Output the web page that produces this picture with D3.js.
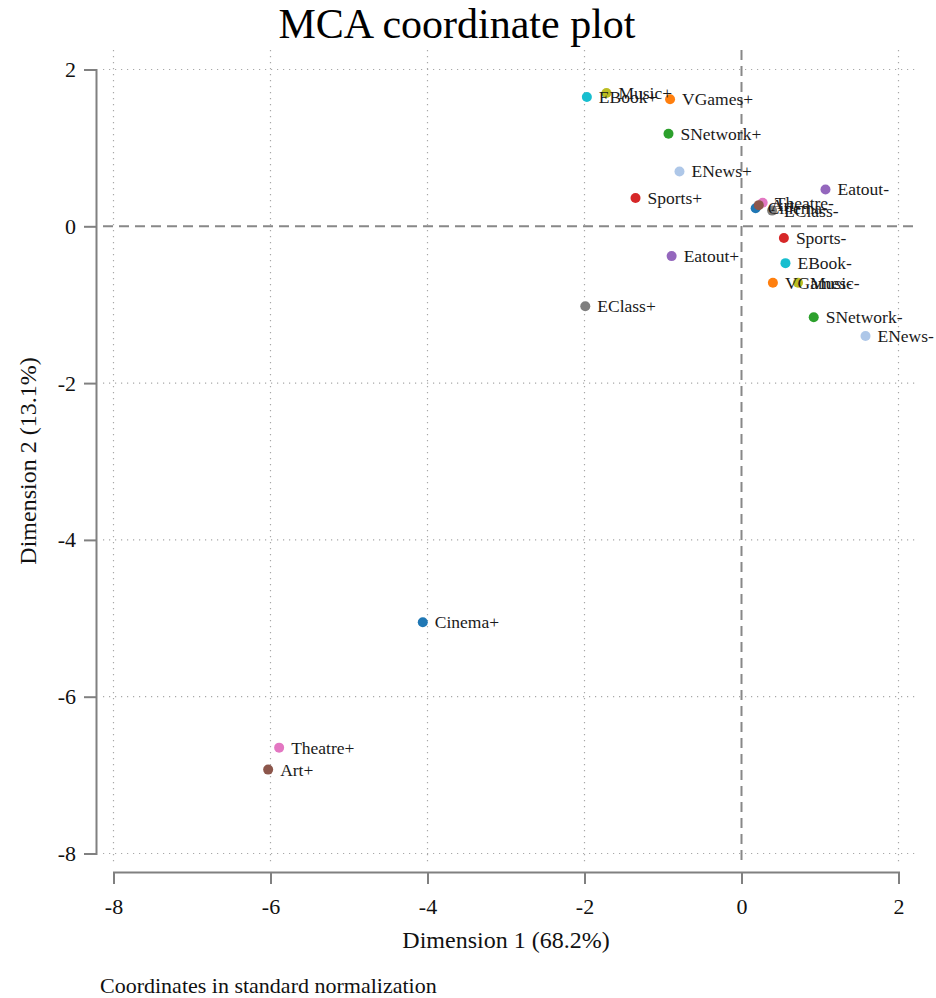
<!DOCTYPE html>
<html>
<head>
<meta charset="utf-8">
<script src="https://cdn.jsdelivr.net/npm/d3@7"></script>
<style>
  body { margin: 0; background: #fff; }
  svg { display: block; font-family: "Liberation Serif", "Times New Roman", serif; }
</style>
</head>
<body>
<svg id="chart" width="936" height="998"></svg>
<script>
// Category labels, dimension 1 and dimension 2 coordinates (standard normalization)
const labels = ["Cinema+", "Cinema-", "Theatre+", "Theatre-", "Art+", "Art-",
  "EClass+", "EClass-", "Eatout+", "Eatout-", "Sports+", "Sports-",
  "ENews+", "ENews-", "SNetwork+", "SNetwork-", "VGames+", "VGames-",
  "Music+", "Music-", "EBook+", "EBook-"];
const dim1 = [-4.06, 0.18, -5.89, 0.27, -6.03, 0.22,
  -1.99, 0.39, -0.89, 1.07, -1.35, 0.54,
  -0.79, 1.58, -0.93, 0.92, -0.91, 0.40,
  -1.72, 0.72, -1.97, 0.56];
const dim2 = [-5.05, 0.23, -6.65, 0.30, -6.93, 0.27,
  -1.02, 0.20, -0.38, 0.47, 0.36, -0.15,
  0.70, -1.40, 1.18, -1.16, 1.62, -0.72,
  1.70, -0.72, 1.65, -0.47];
const variables = ["Cinema", "Theatre", "Art", "EClass", "Eatout", "Sports",
  "ENews", "SNetwork", "VGames", "Music", "EBook"];
const palette = ["#1f77b4", "#e377c2", "#8c564b", "#7f7f7f", "#9467bd", "#d62728",
  "#aec7e8", "#2ca02c", "#ff7f0e", "#bcbd22", "#17becf"];
const xTicks = [-8, -6, -4, -2, 0, 2];
const yTicks = [-8, -6, -4, -2, 0, 2];

const svg = d3.select("#chart");
const x = d3.scaleLinear().domain([-8, 2]).range([113.5, 898.5]);
const y = d3.scaleLinear().domain([-8, 2]).range([853.5, 69.5]);
const color = d3.scaleOrdinal().domain(variables).range(palette);

const plot = { left: 103, right: 918, top: 50, bottom: 863 };
const axisColor = "#808080";

// Dotted grid lines
const grid = svg.append("g");
grid.selectAll("line.gx").data(xTicks.filter(d => d !== 0)).join("line")
  .attr("x1", d => x(d)).attr("x2", d => x(d))
  .attr("y1", plot.top).attr("y2", plot.bottom)
  .attr("stroke", "#a8a8a8").attr("stroke-width", 1.2).attr("stroke-dasharray", "1.2,4.8");
grid.selectAll("line.gy").data(yTicks.filter(d => d !== 0)).join("line")
  .attr("y1", d => y(d)).attr("y2", d => y(d))
  .attr("x1", plot.left).attr("x2", plot.right)
  .attr("stroke", "#a8a8a8").attr("stroke-width", 1.2).attr("stroke-dasharray", "1.2,4.8");

// Dashed reference lines through the origin
svg.append("line")
  .attr("x1", x(0)).attr("x2", x(0)).attr("y1", plot.top).attr("y2", plot.bottom)
  .attr("stroke", "#888").attr("stroke-width", 2).attr("stroke-dasharray", "10,6");
svg.append("line")
  .attr("x1", plot.left).attr("x2", plot.right).attr("y1", y(0)).attr("y2", y(0))
  .attr("stroke", "#888").attr("stroke-width", 2).attr("stroke-dasharray", "10,6");

// Axes
const xAxis = svg.append("g")
  .attr("transform", "translate(0,872)")
  .call(d3.axisBottom(x).tickValues(xTicks).tickFormat(d3.format("d")).tickSizeOuter(0).tickSize(12).tickPadding(14));
const yAxis = svg.append("g")
  .attr("transform", "translate(96,0)")
  .call(d3.axisLeft(y).tickValues(yTicks).tickFormat(d3.format("d")).tickSizeOuter(0).tickSize(12).tickPadding(8));
[xAxis, yAxis].forEach(g => {
  g.select(".domain").attr("stroke", axisColor).attr("stroke-width", 2);
  g.selectAll(".tick line").attr("stroke", axisColor).attr("stroke-width", 2);
  g.selectAll(".tick text").attr("fill", "#111").attr("font-size", 22)
    .attr("font-family", "Liberation Serif, Times New Roman, serif");
});
xAxis.selectAll(".tick text").text(d => d < 0 ? "-" + Math.abs(d) : d);
yAxis.selectAll(".tick text").text(d => d < 0 ? "-" + Math.abs(d) : d);

// Points and labels
const pts = labels.map((l, i) => ({ label: l, v: l.slice(0, -1), x: dim1[i], y: dim2[i] }));
svg.append("g").selectAll("circle").data(pts).join("circle")
  .attr("cx", d => x(d.x)).attr("cy", d => y(d.y)).attr("r", 5)
  .attr("fill", d => color(d.v));
svg.append("g").selectAll("text").data(pts).join("text")
  .attr("x", d => x(d.x) + 12).attr("y", d => y(d.y) + 6)
  .attr("font-size", 17.5).attr("fill", "#1a1a1a")
  .text(d => d.label);

// Titles
svg.append("text").attr("x", 457).attr("y", 38).attr("text-anchor", "middle")
  .attr("font-size", 42).attr("fill", "#000").text("MCA coordinate plot");
svg.append("text").attr("x", 506).attr("y", 948).attr("text-anchor", "middle")
  .attr("font-size", 24).attr("fill", "#111").text("Dimension 1 (68.2%)");
svg.append("text").attr("transform", "translate(36,461) rotate(-90)").attr("text-anchor", "middle")
  .attr("font-size", 24).attr("fill", "#111").text("Dimension 2 (13.1%)");
svg.append("text").attr("x", 100).attr("y", 993)
  .attr("font-size", 22).attr("fill", "#111").text("Coordinates in standard normalization");
</script>
</body>
</html>
